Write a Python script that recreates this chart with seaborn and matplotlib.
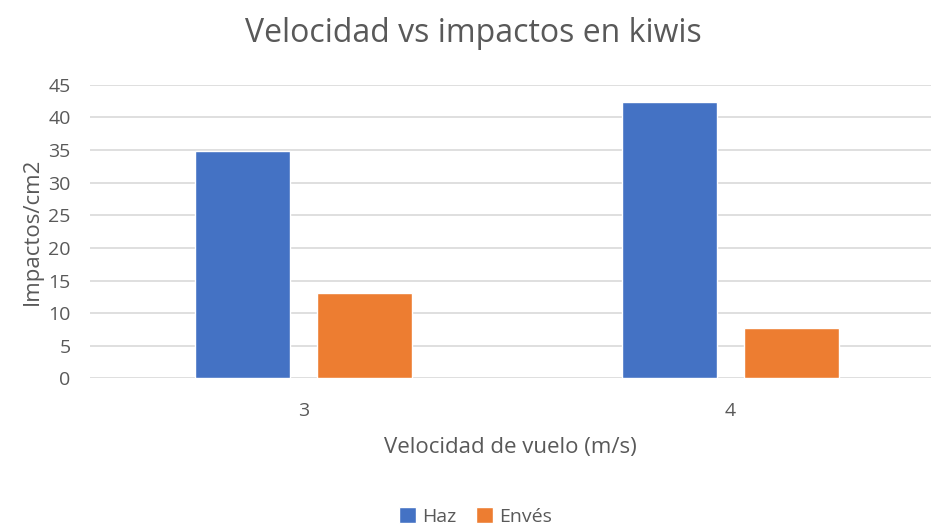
import matplotlib
matplotlib.use('Agg')
import matplotlib.pyplot as plt
import pandas as pd
import seaborn as sns

# ---- Datos ----
velocidades = ['3', '4']
haz = [34.9, 42.4]
enves = [13.1, 7.7]

df = pd.DataFrame({
    'Velocidad': velocidades * 2,
    'Impactos': haz + enves,
    'Cara': ['Haz'] * len(velocidades) + ['Envés'] * len(velocidades),
})

sns.set_style('white')
plt.rcParams['font.family'] = ['Open Sans', 'DejaVu Sans']
gris = '#595959'

fig = plt.figure(figsize=(9.31, 5.27), dpi=100)
ax = fig.add_axes([0.0967, 0.2818, 0.9033, 0.5575])

sns.barplot(data=df, x='Velocidad', y='Impactos', hue='Cara',
            palette=['#4472C4', '#ED7D31'], width=0.571, gap=0.22,
            saturation=1, ax=ax, zorder=3)

ax.set_ylim(0, 45)
ax.set_xlim(-0.5, 1.47)
ax.set_yticks(range(0, 46, 5))
ax.yaxis.grid(True, color='#D9D9D9', linewidth=1.2, zorder=0)
ax.set_axisbelow(True)
for s in ax.spines.values():
    s.set_visible(False)
ax.tick_params(axis='both', length=0, labelsize=14, colors=gris, pad=14)
ax.tick_params(axis='x', pad=17)

ax.set_xlabel('Velocidad de vuelo (m/s)', fontsize=16, color=gris, labelpad=12)
ax.set_ylabel('Impactos/cm2', fontsize=16, color=gris, labelpad=4)
fig.text(0.508, 0.937, 'Velocidad vs impactos en kiwis', ha='center', va='center',
         fontsize=23, color=gris)

leg = ax.legend(loc='center', bbox_to_anchor=(0.458, -0.47), ncol=2, frameon=False,
                fontsize=14, handlelength=0.9, handleheight=0.9,
                columnspacing=1.0, handletextpad=0.3)
for t in leg.get_texts():
    t.set_color(gris)

fig.savefig('out.png', dpi=100)
